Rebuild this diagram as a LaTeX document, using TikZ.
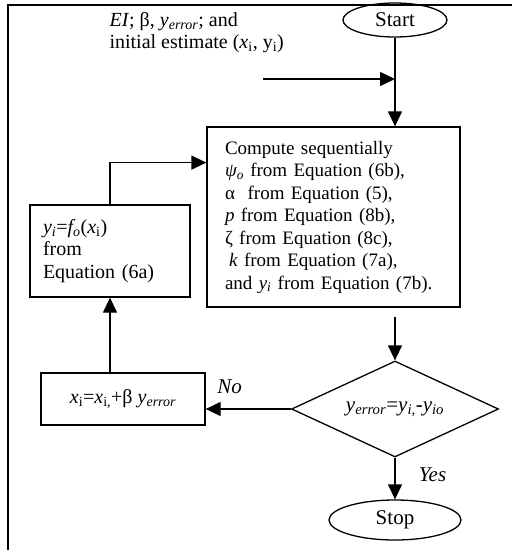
\documentclass[tikz,border=0pt]{standalone}
\usepackage{fontspec}
\setmainfont{Liberation Serif}
\usetikzlibrary{arrows.meta,shapes.geometric,calc}
\newcommand{\yerr}{\textit{y}\textsubscript{\textit{error}}}

\begin{document}
\begin{tikzpicture}[x=1pt,y=-1pt,
	every node/.style={font=\fontsize{20}{22.5}\selectfont},
	box/.style={draw,line width=1.3pt,align=left},
	arr/.style={line width=1.3pt,-{Triangle[length=15pt,width=14pt]}},
	oval/.style={draw,ellipse,line width=1.3pt,inner sep=0pt,font=\fontsize{21}{24}\selectfont}]
					\useasboundingbox (0,0) rectangle (512,550);
					\draw [line width=1.3pt] (512,5) -- (8,5) -- (8,550);
					\node [anchor=north west, align=left, font=\fontsize{20}{22}\selectfont] (given) at (106,9)
						{\textit{EI}; β, \yerr; and\\initial estimate (\textit{x}\textsubscript{i}, y\textsubscript{i})};
					\node [oval, minimum width=104pt, minimum height=34pt] (start) at (395,20) {Start};
					\node [box, minimum width=253pt, minimum height=180pt, text width=217pt, inner xsep=18pt, font=\fontsize{19}{22.5}\selectfont] (comp) at (333.5,217)
						{Compute sequentially\\
						\textit{ψ\textsubscript{o}} from Equation (6b),\\
						α\ \ from Equation (5),\\
						\textit{p} from Equation (8b),\\
						ζ from Equation (8c),\\
						\hspace*{4pt}\textit{k} from Equation (7a),\\
						and \textit{y\textsubscript{i}} from Equation (7b).};
					\node [box, minimum width=160pt, minimum height=92pt, text width=134pt, inner xsep=13pt] (fo) at (110,251)
						{\textit{y\textsubscript{i}}=\textit{f\textsubscript{o}}(\textit{x}\textsubscript{i})\\from\\Equation (6a)};
					\node [box, minimum width=164pt, minimum height=52pt, align=center] (upd) at (123,399)
						{\textit{x}\textsubscript{i}=\textit{x}\textsubscript{i,}+β \yerr};
					\node [draw, diamond, line width=1.3pt, aspect=2.15, inner sep=0pt, minimum width=207pt, minimum height=96pt, font=\fontsize{21}{24}\selectfont] (chk) at (395,409)
						{\yerr=\textit{y\textsubscript{i,}}-\textit{y\textsubscript{io}}};
					\node [oval, minimum width=132pt, minimum height=40pt] (stop) at (395,520) {Stop};
					\coordinate (inp) at (263,79);
					\coordinate (join) at (start.south |- inp);
					\draw [arr] (inp) -- (join);
					\draw [arr] (start.south) -- (start.south |- comp.north);
					\draw [arr] (fo.north) |- ($(comp.north west)!0.2!(comp.south west)$);
					\draw [arr, shorten <=9pt] (comp.south -| chk.north) -- (chk.north);
					\draw [arr] (chk.west) -- (chk.west -| upd.east) node [pos=0.72, above=11pt, font=\fontsize{21}{24}\selectfont] {\textit{No}};
					\draw [arr] (upd.north -| fo.south) -- (fo.south);
					\draw [arr] (chk.south) -- (stop.north) node [pos=0.4, right=20pt, font=\fontsize{21}{24}\selectfont] {\textit{Yes}};
				\end{tikzpicture}
\end{document}
